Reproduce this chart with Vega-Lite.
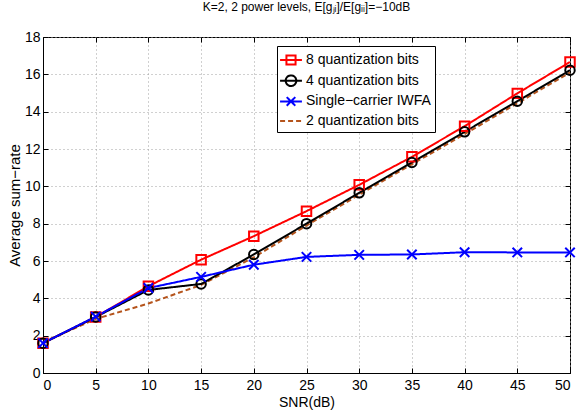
{
  "$schema": "https://vega.github.io/schema/vega-lite/v6.json",
  "width": 527,
  "height": 336,
  "autosize": {"type": "none"},
  "padding": {"left": 43, "top": 37, "right": 9, "bottom": 37},
  "title": {"text": "K=2, 2 power levels, E[gⱼᵢ]/E[gᵢᵢ]=−10dB", "fontSize": 12, "fontWeight": "normal", "font": "Liberation Sans", "color": "black", "offset": 16, "anchor": "middle"},
  "config": {
    "font": "Liberation Sans",
    "view": {"stroke": "black", "strokeWidth": 1},
    "axis": {"labelFont": "Liberation Sans", "titleFont": "Liberation Sans", "labelFontSize": 14, "titleFontSize": 14, "titleFontWeight": "normal", "labelColor": "black", "titleColor": "black", "domainColor": "black", "tickColor": "black", "gridColor": "#a0a0a0", "gridDash": [1, 3], "gridOpacity": 1}
  },
  "data": {"values": [
    {"snr": 0, "rate": 1.65, "series": "2 quantization bits"},
    {"snr": 5, "rate": 2.9, "series": "2 quantization bits"},
    {"snr": 10, "rate": 3.72, "series": "2 quantization bits"},
    {"snr": 15, "rate": 4.72, "series": "2 quantization bits"},
    {"snr": 20, "rate": 6.2, "series": "2 quantization bits"},
    {"snr": 25, "rate": 7.9, "series": "2 quantization bits"},
    {"snr": 30, "rate": 9.55, "series": "2 quantization bits"},
    {"snr": 35, "rate": 11.18, "series": "2 quantization bits"},
    {"snr": 40, "rate": 12.8, "series": "2 quantization bits"},
    {"snr": 45, "rate": 14.45, "series": "2 quantization bits"},
    {"snr": 50, "rate": 16.1, "series": "2 quantization bits"},
    {"snr": 0, "rate": 1.6, "series": "8 quantization bits"},
    {"snr": 5, "rate": 3.0, "series": "8 quantization bits"},
    {"snr": 10, "rate": 4.65, "series": "8 quantization bits"},
    {"snr": 15, "rate": 6.07, "series": "8 quantization bits"},
    {"snr": 20, "rate": 7.33, "series": "8 quantization bits"},
    {"snr": 25, "rate": 8.67, "series": "8 quantization bits"},
    {"snr": 30, "rate": 10.08, "series": "8 quantization bits"},
    {"snr": 35, "rate": 11.58, "series": "8 quantization bits"},
    {"snr": 40, "rate": 13.22, "series": "8 quantization bits"},
    {"snr": 45, "rate": 14.98, "series": "8 quantization bits"},
    {"snr": 50, "rate": 16.66, "series": "8 quantization bits"},
    {"snr": 0, "rate": 1.6, "series": "4 quantization bits"},
    {"snr": 5, "rate": 3.0, "series": "4 quantization bits"},
    {"snr": 10, "rate": 4.45, "series": "4 quantization bits"},
    {"snr": 15, "rate": 4.77, "series": "4 quantization bits"},
    {"snr": 20, "rate": 6.35, "series": "4 quantization bits"},
    {"snr": 25, "rate": 8.0, "series": "4 quantization bits"},
    {"snr": 30, "rate": 9.65, "series": "4 quantization bits"},
    {"snr": 35, "rate": 11.28, "series": "4 quantization bits"},
    {"snr": 40, "rate": 12.92, "series": "4 quantization bits"},
    {"snr": 45, "rate": 14.56, "series": "4 quantization bits"},
    {"snr": 50, "rate": 16.22, "series": "4 quantization bits"},
    {"snr": 0, "rate": 1.6, "series": "Single−carrier IWFA"},
    {"snr": 5, "rate": 3.02, "series": "Single−carrier IWFA"},
    {"snr": 10, "rate": 4.55, "series": "Single−carrier IWFA"},
    {"snr": 15, "rate": 5.15, "series": "Single−carrier IWFA"},
    {"snr": 20, "rate": 5.8, "series": "Single−carrier IWFA"},
    {"snr": 25, "rate": 6.22, "series": "Single−carrier IWFA"},
    {"snr": 30, "rate": 6.33, "series": "Single−carrier IWFA"},
    {"snr": 35, "rate": 6.35, "series": "Single−carrier IWFA"},
    {"snr": 40, "rate": 6.47, "series": "Single−carrier IWFA"},
    {"snr": 45, "rate": 6.46, "series": "Single−carrier IWFA"},
    {"snr": 50, "rate": 6.46, "series": "Single−carrier IWFA"}
  ]},
  "layer": [
    {
      "mark": {"type": "line", "strokeWidth": 2},
      "encoding": {
        "x": {"field": "snr", "type": "quantitative", "scale": {"domain": [0, 50], "nice": false}, "axis": {"orient": "bottom", "values": [0, 5, 10, 15, 20, 25, 30, 35, 40, 45, 50], "title": "SNR(dB)", "tickSize": -5, "labelPadding": 10, "titlePadding": 3}},
        "y": {"field": "rate", "type": "quantitative", "scale": {"domain": [0, 18], "nice": false}, "axis": {"orient": "left", "values": [0, 2, 4, 6, 8, 10, 12, 14, 16, 18], "title": "Average sum−rate", "titleFontSize": 15, "tickSize": -5, "labelPadding": 8, "titlePadding": 2}},
        "color": {"field": "series", "type": "nominal", "scale": {"domain": ["8 quantization bits", "4 quantization bits", "Single−carrier IWFA", "2 quantization bits"], "range": ["#ff0000", "#000000", "#0000ff", "#b5541c"]},
          "legend": {"orient": "none", "legendX": 234, "legendY": 9, "title": null, "strokeColor": "black", "fillColor": "white", "padding": 3.5, "labelFont": "Liberation Sans", "labelFontSize": 14, "labelColor": "black", "symbolSize": 361, "symbolStrokeWidth": 2, "rowPadding": 0.7, "labelOffset": 4.5,
            "encode": {"symbols": {"update": {
              "shape": {"signal": "datum.value === '8 quantization bits' ? 'M-1.15,0H1.15M-0.48,-0.48H0.48V0.48H-0.48Z' : datum.value === '4 quantization bits' ? 'M-1.15,0H1.15M0.56,0A0.56,0.56,0,1,1,-0.56,0A0.56,0.56,0,1,1,0.56,0' : datum.value === '2 quantization bits' ? 'M-1.15,0H1.15' : 'M-1.15,0H1.15M-0.45,-0.45L0.45,0.45M-0.45,0.45L0.45,-0.45'"},
              "strokeDash": {"signal": "datum.value === '2 quantization bits' ? [4, 3] : [1, 0]"},
              "fill": {"value": "transparent"},
              "strokeWidth": {"value": 2}
            }}}}},
        "strokeDash": {"field": "series", "type": "nominal", "scale": {"domain": ["8 quantization bits", "4 quantization bits", "Single−carrier IWFA", "2 quantization bits"], "range": [[1, 0], [1, 0], [1, 0], [5, 3]]}, "legend": null}
      }
    },
    {
      "transform": [{"filter": "datum.series !== '2 quantization bits'"}],
      "mark": {"type": "point", "filled": false, "strokeWidth": 2, "size": 90, "opacity": 1},
      "encoding": {
        "x": {"field": "snr", "type": "quantitative", "scale": {"domain": [0, 50], "nice": false}, "axis": {"orient": "top", "values": [0, 5, 10, 15, 20, 25, 30, 35, 40, 45, 50], "labels": false, "grid": false, "domain": false, "title": null, "tickSize": -5}},
        "y": {"field": "rate", "type": "quantitative", "scale": {"domain": [0, 18], "nice": false}, "axis": {"orient": "right", "values": [0, 2, 4, 6, 8, 10, 12, 14, 16, 18], "labels": false, "grid": false, "domain": false, "title": null, "tickSize": -5}},
        "color": {"field": "series", "type": "nominal", "scale": {"domain": ["8 quantization bits", "4 quantization bits", "Single−carrier IWFA", "2 quantization bits"], "range": ["#ff0000", "#000000", "#0000ff", "#b5541c"]}, "legend": null},
        "shape": {"field": "series", "type": "nominal", "scale": {"domain": ["8 quantization bits", "4 quantization bits", "Single−carrier IWFA"], "range": ["square", "circle", "M-1,-1L1,1M-1,1L1,-1"]}, "legend": null}
      }
    }
  ],
  "resolve": {"axis": {"x": "independent", "y": "independent"}}
}
